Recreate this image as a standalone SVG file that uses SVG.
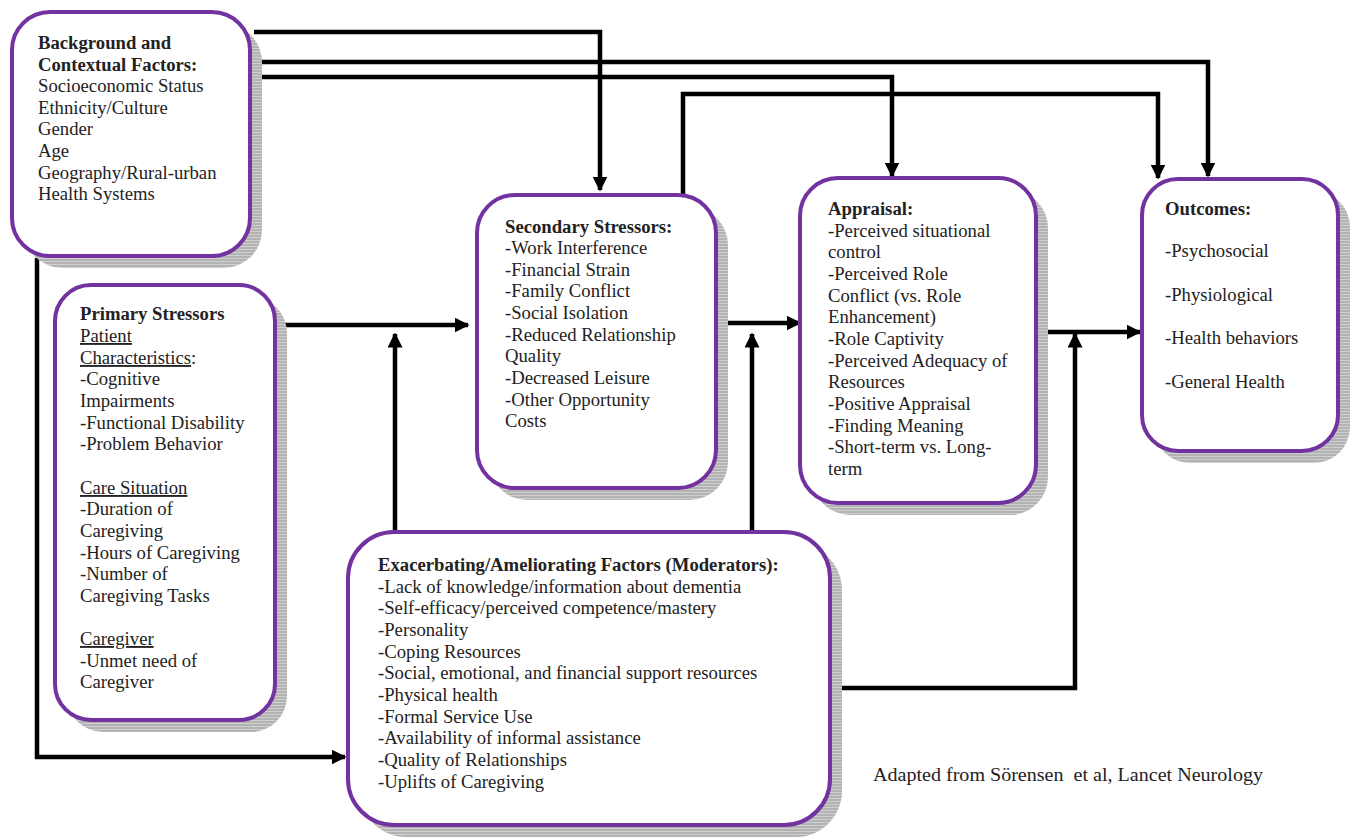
<svg xmlns="http://www.w3.org/2000/svg" width="1360" height="837" viewBox="0 0 1360 837">
<style>
.box{fill:#fff;stroke:#7232a0;stroke-width:4}
.sh{fill:url(#stripes)}
.t{font-family:"Liberation Serif","Times New Roman",serif;font-size:18.7px;fill:#222}
.b{font-weight:bold}
.u{text-decoration:underline}
.c{fill:none;stroke:#000;stroke-width:4.5;stroke-linejoin:miter}
.cap{font-family:"Liberation Serif","Times New Roman",serif;font-size:18.5px;fill:#222}
</style>
<defs>
<pattern id="stripes" width="6" height="3" patternUnits="userSpaceOnUse">
<rect width="6" height="3" fill="#b3b3b3"/>
<rect width="6" height="1" fill="#cfcfcf"/>
</pattern>
<marker id="ah" viewBox="0 0 10 10" refX="9" refY="5" markerWidth="15" markerHeight="15" markerUnits="userSpaceOnUse" orient="auto">
<path d="M0,0 L10,5 L0,10 Z" fill="#000"/>
</marker>
</defs>
<rect width="1360" height="837" fill="#fff"/>

<g id="connectors">
<path class="c" d="M254,32 H600 V190" marker-end="url(#ah)"/>
<path class="c" d="M258,62 H1208 V176" marker-end="url(#ah)"/>
<path class="c" d="M258,77 H892 V176" marker-end="url(#ah)"/>
<path class="c" d="M683,195 V94 H1158 V178" marker-end="url(#ah)"/>
<path class="c" d="M37,258 V757 H345" marker-end="url(#ah)"/>
<path class="c" d="M281,325 H468" marker-end="url(#ah)"/>
<path class="c" d="M395,532 V334" marker-end="url(#ah)"/>
<path class="c" d="M722,323 H800" marker-end="url(#ah)"/>
<path class="c" d="M752,532 V334" marker-end="url(#ah)"/>
<path class="c" d="M1038,332 H1140" marker-end="url(#ah)"/>
<path class="c" d="M830,688 H1075 V334" marker-end="url(#ah)"/>
</g>

<g id="background">
<rect class="sh" x="24" y="24" width="238" height="244" rx="38"/>
<rect class="box" x="12" y="12" width="238" height="244" rx="38"/>
<text class="t"><tspan class="b" x="38" y="49">Background and</tspan><tspan class="b" x="38" y="71">Contextual Factors:</tspan><tspan x="38" y="92">Socioeconomic Status</tspan><tspan x="38" y="114">Ethnicity/Culture</tspan><tspan x="38" y="135">Gender</tspan><tspan x="38" y="157">Age</tspan><tspan x="38" y="179">Geography/Rural-urban</tspan><tspan x="38" y="200">Health Systems</tspan></text>
</g>

<g id="primary">
<rect class="sh" x="67" y="297" width="220" height="435" rx="36"/>
<rect class="box" x="55" y="285" width="220" height="435" rx="36"/>
<text class="t"><tspan class="b" x="80" y="320">Primary Stressors</tspan><tspan class="u" x="80" y="342">Patient</tspan><tspan x="80" y="364"><tspan class="u">Characteristics</tspan>:</tspan><tspan x="80" y="385">-Cognitive</tspan><tspan x="80" y="407">Impairments</tspan><tspan x="80" y="429">-Functional Disability</tspan><tspan x="80" y="450">-Problem Behavior</tspan><tspan class="u" x="80" y="494">Care Situation</tspan><tspan x="80" y="515">-Duration of</tspan><tspan x="80" y="537">Caregiving</tspan><tspan x="80" y="559">-Hours of Caregiving</tspan><tspan x="80" y="580">-Number of</tspan><tspan x="80" y="602">Caregiving Tasks</tspan><tspan class="u" x="80" y="645">Caregiver</tspan><tspan x="80" y="667">-Unmet need of</tspan><tspan x="80" y="688">Caregiver</tspan></text>
</g>

<g id="secondary">
<rect class="sh" x="489" y="207" width="239" height="293" rx="38"/>
<rect class="box" x="477" y="195" width="239" height="293" rx="38"/>
<text class="t"><tspan class="b" x="505" y="233">Secondary Stressors:</tspan><tspan x="505" y="254">-Work Interference</tspan><tspan x="505" y="276">-Financial Strain</tspan><tspan x="505" y="297">-Family Conflict</tspan><tspan x="505" y="319">-Social Isolation</tspan><tspan x="505" y="341">-Reduced Relationship</tspan><tspan x="505" y="362">Quality</tspan><tspan x="505" y="384">-Decreased Leisure</tspan><tspan x="505" y="406">-Other Opportunity</tspan><tspan x="505" y="427">Costs</tspan></text>
</g>

<g id="appraisal">
<rect class="sh" x="812" y="190" width="236" height="325" rx="38"/>
<rect class="box" x="800" y="178" width="236" height="325" rx="38"/>
<text class="t"><tspan class="b" x="828" y="215">Appraisal:</tspan><tspan x="828" y="237">-Perceived situational</tspan><tspan x="828" y="258">control</tspan><tspan x="828" y="280">-Perceived Role</tspan><tspan x="828" y="302">Conflict (vs. Role</tspan><tspan x="828" y="323">Enhancement)</tspan><tspan x="828" y="345">-Role Captivity</tspan><tspan x="828" y="367">-Perceived Adequacy of</tspan><tspan x="828" y="388">Resources</tspan><tspan x="828" y="410">-Positive Appraisal</tspan><tspan x="828" y="432">-Finding Meaning</tspan><tspan x="828" y="453">-Short-term vs. Long-</tspan><tspan x="828" y="475">term</tspan></text>
</g>

<g id="outcomes">
<rect class="sh" x="1154" y="191" width="196" height="272" rx="36"/>
<rect class="box" x="1142" y="179" width="196" height="272" rx="36"/>
<text class="t"><tspan class="b" x="1165" y="215">Outcomes:</tspan><tspan x="1165" y="257">-Psychosocial</tspan><tspan x="1165" y="301">-Physiological</tspan><tspan x="1165" y="344">-Health behaviors</tspan><tspan x="1165" y="388">-General Health</tspan></text>
</g>

<g id="moderators">
<rect class="sh" x="360" y="544" width="482" height="293" rx="46"/>
<rect class="box" x="348" y="532" width="482" height="293" rx="46"/>
<text class="t"><tspan class="b" x="378" y="571">Exacerbating/Ameliorating Factors (Moderators):</tspan><tspan x="378" y="593">-Lack of knowledge/information about dementia</tspan><tspan x="378" y="614">-Self-efficacy/perceived competence/mastery</tspan><tspan x="378" y="636">-Personality</tspan><tspan x="378" y="658">-Coping Resources</tspan><tspan x="378" y="679">-Social, emotional, and financial support resources</tspan><tspan x="378" y="701">-Physical health</tspan><tspan x="378" y="723">-Formal Service Use</tspan><tspan x="378" y="744">-Availability of informal assistance</tspan><tspan x="378" y="766">-Quality of Relationships</tspan><tspan x="378" y="788">-Uplifts of Caregiving</tspan></text>
</g>

<text class="cap" x="873" y="781" xml:space="preserve" textLength="390" lengthAdjust="spacingAndGlyphs">Adapted from Sörensen  et al, Lancet Neurology</text>
</svg>
